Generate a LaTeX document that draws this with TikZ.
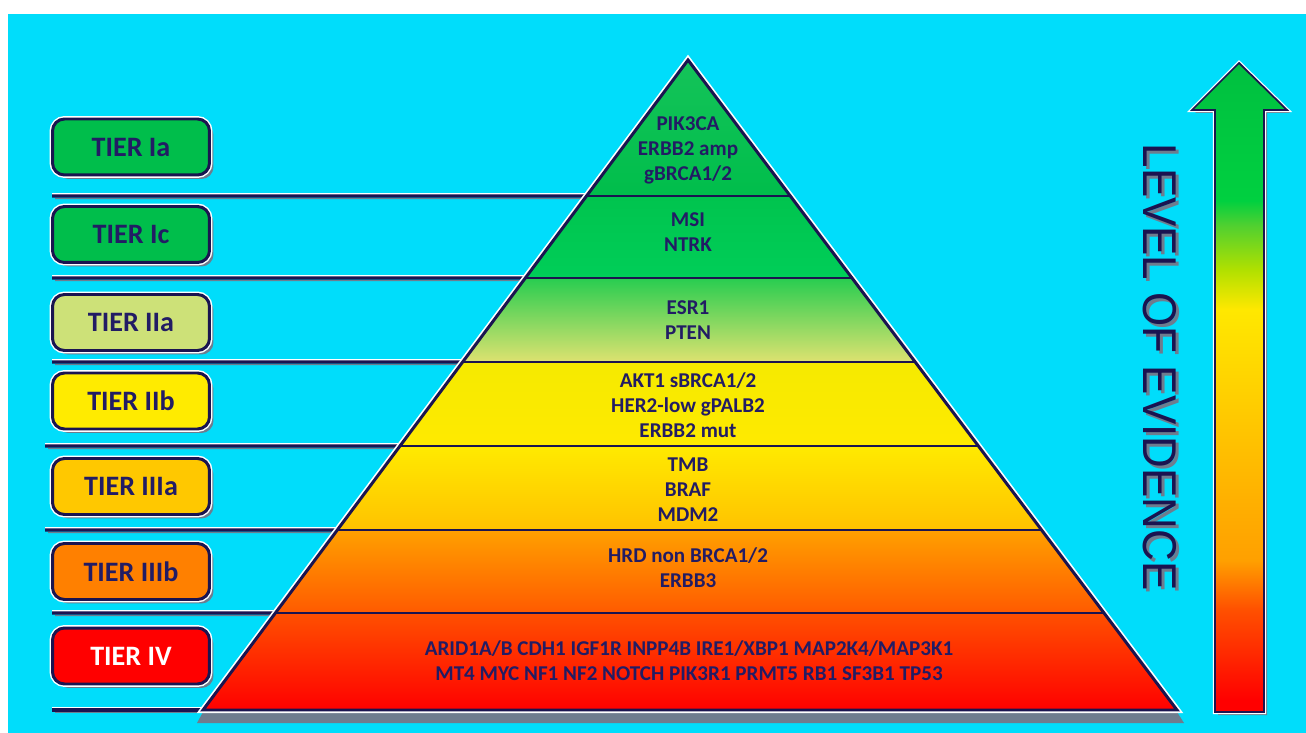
\documentclass[tikz,border=0pt]{standalone}
\usepackage{fontspec}
\setmainfont{Carlito}
\newfontfamily\arialf{Liberation Sans}
\usetikzlibrary{calc,shadows}
\definecolor{bgcyan}{RGB}{0,221,251}
\definecolor{navy}{RGB}{26,20,80}
\definecolor{tnavy}{RGB}{34,28,100}
\definecolor{shgray}{RGB}{110,124,142}
\definecolor{bIa}{RGB}{0,190,75}
\definecolor{bIIa}{RGB}{205,225,120}
\definecolor{bIIb}{RGB}{255,235,0}
\definecolor{bIIIa}{RGB}{255,200,0}
\definecolor{bIIIb}{RGB}{255,128,0}
\definecolor{bIV}{RGB}{255,0,0}
\definecolor{ev1}{RGB}{255,0,0}
\definecolor{ev2}{RGB}{255,80,0}
\definecolor{ev3}{RGB}{255,160,0}
\definecolor{ev4}{RGB}{255,176,0}
\definecolor{ev5}{RGB}{255,212,0}
\definecolor{ev6}{RGB}{255,232,0}
\definecolor{ev7}{RGB}{176,224,0}
\definecolor{ev8}{RGB}{80,208,48}
\definecolor{ev9}{RGB}{0,208,64}
\definecolor{ev10}{RGB}{0,192,64}
\pgfdeclareverticalshading{evid}{100bp}{color(0bp)=(ev1); color(25.9bp)=(ev1); color(32.9bp)=(ev2); color(36.7bp)=(ev3); color(41.3bp)=(ev4); color(50.6bp)=(ev5); color(56bp)=(ev6); color(59.1bp)=(ev7); color(62.5bp)=(ev8); color(64.4bp)=(ev9); color(75bp)=(ev10); color(100bp)=(ev10)}
\tikzset{
  tierbox/.style={draw=navy, line width=1.7pt, rounded corners=0.24cm,
    minimum width=3.14cm, minimum height=1.12cm, inner sep=0pt,
    text=tnavy, font=\bfseries\fontsize{16}{18}\selectfont,
    drop shadow={shadow xshift=0.08cm, shadow yshift=-0.08cm, fill=shgray, opacity=1},
    preaction={draw=white, line width=3.4pt}},
  gtext/.style={align=center, inner sep=0pt, text=tnavy,
    font=\bfseries\fontsize{12}{14.2}\selectfont},
  divline/.style={draw=navy, line width=1.8pt},
  divhi/.style={draw=white, line width=0.9pt},
  divsh/.style={draw=shgray, line width=0.8pt},
  inline/.style={draw=navy, line width=1.3pt}
}
\begin{document}
\begin{tikzpicture}[x=0.02cm,y=-0.02cm]
\useasboundingbox (0,0) rectangle (1306,733);
\fill[white] (0,0) rectangle (1306,733);
\fill[bgcyan] (8,14) rectangle (1306,733);

% pyramid geometry
\coordinate (A) at (688,60);
\coordinate (BL) at (203,710);
\coordinate (BR) at (1177,710);
\coordinate (L1) at ($(A)!0.2092!(BL)$); \coordinate (R1) at ($(A)!0.2092!(BR)$);
\coordinate (L2) at ($(A)!0.3354!(BL)$); \coordinate (R2) at ($(A)!0.3354!(BR)$);
\coordinate (L3) at ($(A)!0.4646!(BL)$); \coordinate (R3) at ($(A)!0.4646!(BR)$);
\coordinate (L4) at ($(A)!0.5938!(BL)$); \coordinate (R4) at ($(A)!0.5938!(BR)$);
\coordinate (L5) at ($(A)!0.7231!(BL)$); \coordinate (R5) at ($(A)!0.7231!(BR)$);
\coordinate (L6) at ($(A)!0.8508!(BL)$); \coordinate (R6) at ($(A)!0.8508!(BR)$);
\coordinate (S1) at (52,196);
\coordinate (S2) at (52,278);
\coordinate (S3) at (52,362);
\coordinate (S4) at (45,446);
\coordinate (S5) at (45,530);
\coordinate (S6) at (52,613);
\coordinate (S7) at (52,710);

% left divider lines
\foreach \s/\e in {S1/L1,S2/L2,S3/L3,S4/L4,S5/L5,S6/L6,S7/BL}{
  \draw[divsh] ($(\s)+(3,2.5)$) -- ($(\e)+(0,2.5)$);
  \draw[divhi] ($(\s)+(0,-2)$) -- ($(\e)+(0,-2)$);
  \draw[divline] (\s) -- (\e);
}

% pyramid shadow and outline highlight
\fill[shgray] (203,712) -- (1177,712) -- (1184,723) -- (197,723) -- cycle;
\draw[white, line width=3.6pt, line join=miter] (A) -- (BR) -- (BL) -- cycle;

% bands
\fill[top color=bIa!92!white, bottom color=bIa] (A) -- (R1) -- (L1) -- cycle;
\fill[top color={rgb,255:red,0;green,196;blue,78}, bottom color={rgb,255:red,0;green,206;blue,88}] (L1) -- (R1) -- (R2) -- (L2) -- cycle;
\fill[top color={rgb,255:red,40;green,205;blue,80}, bottom color={rgb,255:red,222;green,226;blue,112}] (L2) -- (R2) -- (R3) -- (L3) -- cycle;
\fill[top color={rgb,255:red,245;green,234;blue,0}, bottom color={rgb,255:red,255;green,234;blue,0}] (L3) -- (R3) -- (R4) -- (L4) -- cycle;
\fill[top color={rgb,255:red,255;green,234;blue,0}, bottom color={rgb,255:red,255;green,194;blue,0}] (L4) -- (R4) -- (R5) -- (L5) -- cycle;
\fill[top color={rgb,255:red,255;green,160;blue,0}, bottom color={rgb,255:red,255;green,90;blue,0}] (L5) -- (R5) -- (R6) -- (L6) -- cycle;
\fill[top color={rgb,255:red,255;green,80;blue,0}, bottom color={rgb,255:red,255;green,0;blue,0}] (L6) -- (R6) -- (BR) -- (BL) -- cycle;

% inner dividers
\foreach \l/\r in {L1/R1,L2/R2,L3/R3,L4/R4,L5/R5,L6/R6}{
  \draw[inline] (\l) -- (\r);
}
\draw[navy, line width=1.7pt, line join=miter] (A) -- (BR) -- (BL) -- cycle;

% pyramid texts
\node[gtext] (nIa) at (688,150) {PIK3CA\\ERBB2 amp\\gBRCA1/2};
\node[gtext] (nIc) at (688,232) {MSI\\NTRK};
\node[gtext] (nIIa) at (688,320) {ESR1\\PTEN};
\node[gtext] (nIIb) at (688,405) {AKT1 sBRCA1/2\\HER2-low gPALB2\\ERBB2 mut};
\node[gtext] (nIIIa) at (688,490) {TMB\\BRAF\\MDM2};
\node[gtext] (nIIIb) at (688,567.5) {HRD non BRCA1/2\\ERBB3};
\node[gtext] (nIV) at (689,660.5) {ARID1A/B CDH1 IGF1R INPP4B IRE1/XBP1 MAP2K4/MAP3K1\\MT4 MYC NF1 NF2 NOTCH PIK3R1 PRMT5 RB1 SF3B1 TP53};

% tier boxes
\node[tierbox, fill=bIa] (tIa) at (131,147) {TIER Ia};
\node[tierbox, fill=bIa] (tIc) at (131,234.5) {TIER Ic};
\node[tierbox, fill=bIIa] (tIIa) at (131,322.5) {TIER IIa};
\node[tierbox, fill=bIIb] (tIIb) at (131,401) {TIER IIb};
\node[tierbox, fill=bIIIa] (tIIIa) at (131,486.5) {TIER IIIa};
\node[tierbox, fill=bIIIb] (tIIIb) at (131,571.5) {TIER IIIb};
\node[tierbox, fill=bIV, text=white] (tIV) at (131,656) {TIER IV};

% evidence arrow
\coordinate (a1) at (1239,63);
\coordinate (a2) at (1287,110);
\coordinate (a3) at (1264,110);
\coordinate (a4) at (1264,712);
\coordinate (a5) at (1215,712);
\coordinate (a6) at (1215,110);
\coordinate (a7) at (1192,110);
\fill[shgray] ($(a1)+(3,3)$) -- ($(a2)+(3,3)$) -- ($(a3)+(3,3)$) -- ($(a4)+(3,3)$) -- ($(a5)+(3,3)$) -- ($(a6)+(3,3)$) -- ($(a7)+(3,3)$) -- cycle;
\draw[white, line width=2.4pt] (a1) -- (a2) -- (a3) -- (a4) -- (a5) -- (a6) -- (a7) -- cycle;
\shade[shading=evid] (a1) -- (a2) -- (a3) -- (a4) -- (a5) -- (a6) -- (a7) -- cycle;
\draw[navy, line width=1pt] (a1) -- (a2) -- (a3) -- (a4) -- (a5) -- (a6) -- (a7) -- cycle;

% level of evidence label
\node[rotate=-90, text=shgray, inner sep=0pt, font=\arialf\fontsize{25}{25}\selectfont, yscale=1.08] (levsh) at (1163,370) {LEVEL OF EVIDENCE};
\node[rotate=-90, text=navy, inner sep=0pt, font=\arialf\fontsize{25}{25}\selectfont, yscale=1.08] (lev) at (1160,367) {LEVEL OF EVIDENCE};
\end{tikzpicture}
\end{document}
